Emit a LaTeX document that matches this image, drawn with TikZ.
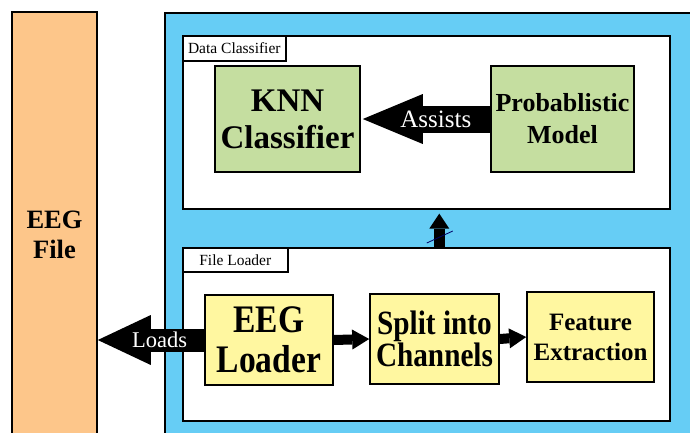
\documentclass[tikz,border=0pt]{standalone}
\usepackage{fontspec}
\setmainfont{Liberation Serif}
\newfontfamily\narrowserif[FakeStretch=0.86]{Liberation Serif}
\usetikzlibrary{arrows.meta}

\definecolor{filecol}{RGB}{253,198,138}
\definecolor{panelcol}{RGB}{102,205,245}
\definecolor{modelcol}{RGB}{197,222,160}
\definecolor{stagecol}{RGB}{255,247,160}

\begin{document}
\begin{tikzpicture}[x=1pt,y=-1pt,
  box/.style={draw=black,line width=1.6pt,inner sep=0pt,align=center},
  tab/.style={box,fill=white,anchor=north west,font=\fontsize{15.5}{16}\selectfont},
  blockarrow/.style n args={3}{line width=#1,-{Triangle[length=#3,width=#2,line width=0pt]}},
  arrowtext/.style={text=white,inner sep=0pt}]
\clip (0,0) rectangle (690,432);

\node[box,fill=filecol,minimum width=85pt,minimum height=446pt,
  font=\bfseries\fontsize{26.5}{30}\selectfont] (eegfile) at (54.5,235) {EEG\\File};
\node[box,fill=panelcol,anchor=north west,minimum width=536pt,minimum height=446pt] (panel) at (164,12) {};

% classifier part
\node[box,fill=white,anchor=north west,minimum width=487pt,minimum height=173pt] (classifier) at (182,35) {};
\node[tab,minimum width=103pt,minimum height=25pt] (classifiertab) at (classifier.north west) {Data Classifier};
\node[box,fill=modelcol,minimum width=145pt,minimum height=106pt,
  font=\bfseries\fontsize{33}{37}\selectfont] (knn) at (287.5,119) {KNN\\Classifier};
\node[box,fill=modelcol,minimum width=143pt,minimum height=106pt,
  font=\bfseries\fontsize{26}{32}\selectfont] (model) at (562.5,119) {Probablistic\\Model};

% loader part
\node[box,fill=white,anchor=north west,minimum width=487pt,minimum height=173pt] (fileloader) at (182,247) {};
\node[tab,minimum width=105pt,minimum height=24pt] (fileloadertab) at (fileloader.north west) {File Loader};
\node[box,fill=stagecol,minimum width=128pt,minimum height=90pt,
  font=\narrowserif\bfseries\fontsize{39}{40}\selectfont] (loader) at (269,340) {EEG\\Loader};
\node[box,fill=stagecol,minimum width=129pt,minimum height=90pt,
  font=\narrowserif\bfseries\fontsize{34}{28}\selectfont] (split) at (434.5,339) {Split into\\Channels};
\node[box,fill=stagecol,minimum width=127pt,minimum height=90pt,
  font=\bfseries\fontsize{25}{30}\selectfont] (feature) at (590.5,337) {Feature\\Extraction};

\draw[blockarrow={27pt}{50pt}{60pt},shorten >=2pt] (model.west) -- (knn.east)
  node[arrowtext,pos=0.42,font=\fontsize{25}{25}\selectfont] {Assists};
\draw[blockarrow={23pt}{50pt}{53pt}] (loader.west) -- (loader.west -| eegfile.east)
  node[arrowtext,pos=0.42,font=\fontsize{22.5}{22.5}\selectfont] {Loads};
\draw[blockarrow={10pt}{20pt}{17pt}] (loader.east) -- (split.west);
\draw[blockarrow={10pt}{20pt}{17pt}] (split.east) -- (feature.west);
\draw[blockarrow={11pt}{20pt}{15pt},shorten >=4pt] ([xshift=13pt]fileloader.north) -- ([xshift=13pt]classifier.south);
\draw[line width=0.8pt,draw=black!60!blue] ([shift={(0.5,-4)}]fileloader.north) -- ([shift={(26.5,-16)}]fileloader.north);
\end{tikzpicture}
\end{document}
